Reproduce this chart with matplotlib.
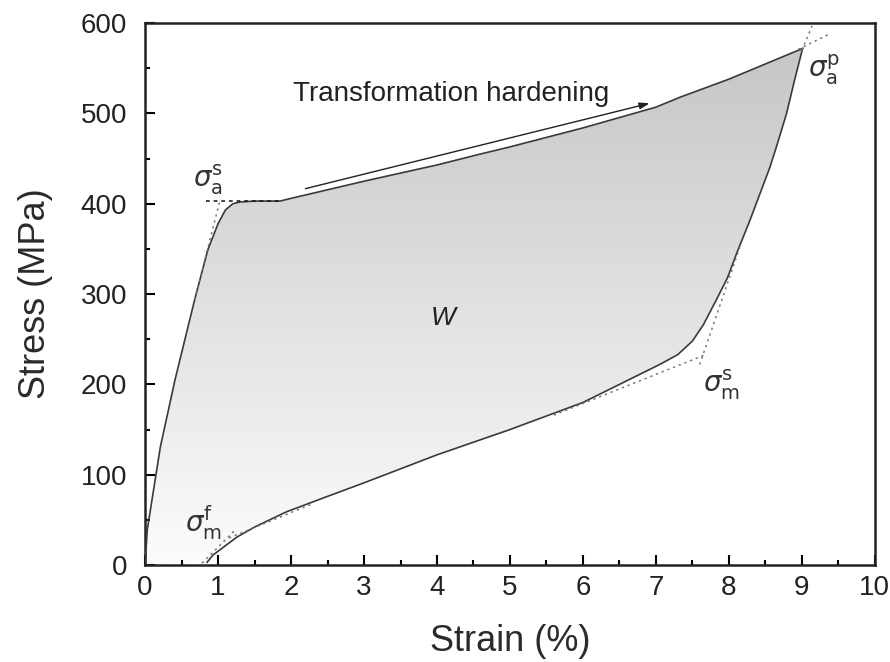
import matplotlib
matplotlib.use("Agg")
import matplotlib.pyplot as plt
import numpy as np
from matplotlib.colors import LinearSegmentedColormap
from matplotlib.patches import Polygon

plt.rcParams["font.family"] = ["Liberation Sans", "DejaVu Sans"]
plt.rcParams["mathtext.fontset"] = "dejavusans"

# loading branch (strain %, stress MPa)
load_x = [0, 0.03, 0.21, 0.41, 0.68, 0.86, 1.0, 1.1, 1.2, 1.3, 1.5, 1.85, 2.0, 3.0, 4.0, 4.59, 5.0, 6.0, 7.0, 7.33, 8.0, 9.01]
load_y = [0, 39, 131, 205, 294, 349, 378, 393, 400, 402, 403, 403, 406, 425, 443, 455, 463, 484, 507, 518, 538, 572]

# unloading branch
unload_x = [9.01, 8.9, 8.79, 8.67, 8.56, 8.42, 8.28, 8.12, 7.98, 7.83, 7.65, 7.5, 7.3, 7.05, 6.5, 6.0, 5.0, 4.0, 3.0, 2.5, 1.94, 1.5, 1.26, 0.93, 0.85]
unload_y = [572, 537, 500, 468, 440, 410, 380, 348, 318, 294, 266, 248, 233, 222, 200, 180, 150, 122, 91, 76, 59, 42, 31, 11, 3]

# tangent construction lines
as_h_x, as_h_y = [0.83, 1.85], [403, 403]
as_e_x, as_e_y = [0.68, 1.03], [294, 405]
ap_1_x, ap_1_y = [9.0, 9.14], [570, 597]
ap_2_x, ap_2_y = [8.95, 9.38], [571, 588]
ms_1_x, ms_1_y = [7.6, 8.15], [222, 352]
ms_2_x, ms_2_y = [5.6, 7.68], [166, 233]
mf_1_x, mf_1_y = [0.78, 1.25], [2, 40]
mf_2_x, mf_2_y = [1.15, 2.3], [30, 68]

fig = plt.figure(figsize=(8.9, 6.62), dpi=100)
ax = fig.add_axes([0.163, 0.1465, 0.82, 0.8185])

# gradient fill of the hysteresis loop
poly_x = load_x + unload_x[1:]
poly_y = load_y + unload_y[1:]
poly = Polygon(np.column_stack([poly_x, poly_y]), closed=True, facecolor="none", edgecolor="none")
ax.add_patch(poly)
cmap = LinearSegmentedColormap.from_list("g", ["#fcfcfc", "#c4c4c4"])
grad = np.linspace(0, 1, 256).reshape(-1, 1)
im = ax.imshow(grad, extent=[0, 10, 0, 600], origin="lower", aspect="auto", cmap=cmap, zorder=1)
im.set_clip_path(poly)

line_c = "#3a3a3a"
ax.plot(load_x, load_y, color=line_c, lw=1.2, zorder=3)
ax.plot(unload_x, unload_y, color=line_c, lw=1.2, zorder=3)

ax.plot(as_h_x, as_h_y, color="#111111", lw=1.1, ls=(0, (2.5, 2.5)), zorder=4)
for xs, ys in [(as_e_x, as_e_y), (ap_1_x, ap_1_y), (ap_2_x, ap_2_y), (ms_1_x, ms_1_y),
               (ms_2_x, ms_2_y), (mf_1_x, mf_1_y), (mf_2_x, mf_2_y)]:
    ax.plot(xs, ys, color="#777777", lw=1.1, ls=(0, (1.5, 2.5)), zorder=4)

ax.annotate("", xy=(6.95, 512), xytext=(2.16, 416),
            arrowprops=dict(arrowstyle="-|>,head_length=0.6,head_width=0.2", color="#222222", lw=1.0),
            zorder=5)
ax.text(2.03, 522, "Transformation hardening", fontsize=20, va="center", ha="left", color="#222222")

lab = dict(fontsize=20, color="#333333", ha="center", va="center")
ax.text(0.86, 427, r"$\sigma_{\rm a}^{\rm s}$", **lab)
ax.text(9.3, 548, r"$\sigma_{\rm a}^{\rm p}$", **lab)
ax.text(7.9, 200, r"$\sigma_{\rm m}^{\rm s}$", **lab)
ax.text(0.8, 47, r"$\sigma_{\rm m}^{\rm f}$", **lab)
ax.text(4.08, 274, "W", fontsize=19, style="italic", color="#222222", ha="center", va="center")

ax.set_xlim(0, 10)
ax.set_ylim(0, 600)
ax.set_xticks(np.arange(0, 11, 1))
ax.set_yticks(np.arange(0, 601, 100))
ax.set_xticks(np.arange(0.5, 10, 1), minor=True)
ax.set_yticks(np.arange(50, 600, 100), minor=True)
ax.tick_params(which="both", direction="in", top=False, right=False, labelsize=20, width=1.5,
               labelcolor="#222222")
ax.tick_params(axis="x", which="both", pad=7)
ax.tick_params(axis="y", which="both", pad=13)
ax.tick_params(which="major", length=7)
ax.tick_params(which="minor", length=3.5)
for s in ax.spines.values():
    s.set_linewidth(1.8)
    s.set_color("#222222")

ax.set_xlabel("Strain (%)", fontsize=26, labelpad=17, color="#2a2a2a")
ax.set_ylabel("Stress (MPa)", fontsize=26, labelpad=20, color="#2a2a2a")

fig.savefig("out.png", dpi=100)
